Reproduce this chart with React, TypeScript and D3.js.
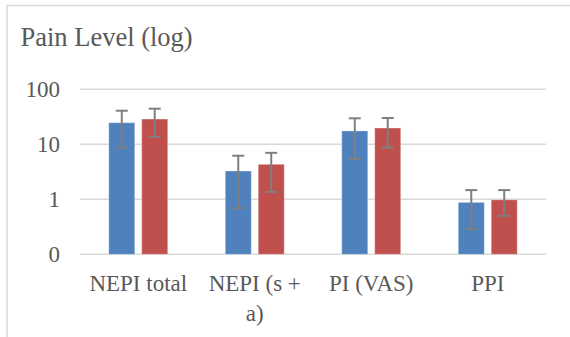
import React from 'react';
import * as d3 from 'd3';

const categories = ['NEPI total', 'NEPI (s + a)', 'PI (VAS)', 'PPI'];
const categoryLines = [['NEPI total'], ['NEPI (s +', 'a)'], ['PI (VAS)'], ['PPI']];
const series = ['A', 'B'];
const seriesColors = ['#4F81BD', '#C0504D'];

const valuesA = [24.7, 3.27, 17.5, 0.88];
const valuesB = [28.8, 4.33, 19.8, 0.98];
const errHighA = [40.8, 6.2, 29.7, 1.47];
const errLowA = [8.7, 0.69, 5.4, 0.29];
const errHighB = [44.4, 7.0, 30.1, 1.47];
const errLowB = [13.7, 1.36, 8.8, 0.5];

const tickValues = [0.1, 1, 10, 100];
const tickLabels = ['0', '1', '10', '100'];

const W = 570;
const H = 337;
const plot = { left: 80, right: 546, top: 89.3, bottom: 254.3 };
const textColor = '#595959';
const gridColor = '#d9d9d9';
const font = '"Liberation Serif", "Times New Roman", serif';

const App = () => {
  const y = d3.scaleLog().domain([0.1, 100]).range([plot.bottom, plot.top]);
  const x0 = d3.scaleBand().domain(categories).range([plot.left, plot.right]).padding(0);
  const groupW = 59;
  const x1 = d3.scaleBand().domain(series).range([0, groupW]).paddingInner(0.21).paddingOuter(0);

  const vals = [valuesA, valuesB];
  const highs = [errHighA, errHighB];
  const lows = [errLowA, errLowB];

  return (
    <div style={{ position: 'fixed', left: 0, top: 0 }}>
      <svg width={W} height={H} xmlns="http://www.w3.org/2000/svg" fontFamily={font}>
        <rect x={0} y={0} width={W} height={H} fill="#fff" />
        <rect x={7} y={5.5} width={W + 10} height={H + 10} fill="none" stroke={gridColor} strokeWidth={1.5} />
        <text x={20.5} y={46} fontSize={26.5} fill={textColor}>Pain Level (log)</text>

        {tickValues.map((t, i) => (
          <g key={i}>
            <line x1={plot.left} x2={plot.right} y1={y(t)} y2={y(t)} stroke={gridColor} strokeWidth={1.5} />
            <text x={60} y={y(t)} dy="0.33em" textAnchor="end" fontSize={23} fill={textColor}>{tickLabels[i]}</text>
          </g>
        ))}

        {categories.map((c, ci) => {
          const gx = x0(c)! + x0.bandwidth() / 2 - groupW / 2;
          return (
            <g key={c}>
              {series.map((s, si) => {
                const bx = gx + x1(s)!;
                const bw = x1.bandwidth();
                const v = vals[si][ci];
                const cx = bx + bw / 2;
                return (
                  <g key={s}>
                    <rect x={bx} y={y(v)} width={bw} height={y(0.1) - y(v)} fill={seriesColors[si]}
                      stroke="#fff" strokeOpacity={0.35} strokeWidth={1} />
                    <line x1={cx} x2={cx} y1={y(highs[si][ci])} y2={y(lows[si][ci])} stroke="#7f7f7f" strokeWidth={2} />
                    <line x1={cx - 6} x2={cx + 6} y1={y(highs[si][ci])} y2={y(highs[si][ci])} stroke="#7f7f7f" strokeWidth={2} />
                    <line x1={cx - 6} x2={cx + 6} y1={y(lows[si][ci])} y2={y(lows[si][ci])} stroke="#7f7f7f" strokeWidth={2} />
                  </g>
                );
              })}
              <text x={x0(c)! + x0.bandwidth() / 2} y={290.5} textAnchor="middle" fontSize={23} fill={textColor}>
                {categoryLines[ci].map((ln, li) => (
                  <tspan key={li} x={x0(c)! + x0.bandwidth() / 2} dy={li === 0 ? 0 : 30}>{ln}</tspan>
                ))}
              </text>
            </g>
          );
        })}
      </svg>
    </div>
  );
};

export default App;
